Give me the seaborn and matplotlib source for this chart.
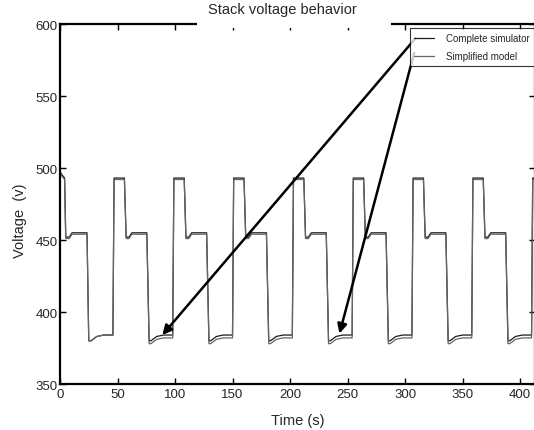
import matplotlib
matplotlib.use("Agg")
import matplotlib.pyplot as plt
from matplotlib.patches import Rectangle
import seaborn as sns
import pandas as pd

# tiempos (s) y tensiones (V)
t_puntos = [0, 1, 3, 4, 5, 8, 10.5, 23.5, 25, 27, 32, 38, 46,
            47, 56, 57.5, 60, 62.5, 75.5, 77.5, 79, 84, 90, 98,
            99, 108, 109.5, 112, 114.5, 127.5, 129.5, 131, 136, 142, 150,
            151, 160, 161.5, 164, 166.5, 179.5, 181.5, 183, 188, 194, 202,
            203, 212, 213.5, 216, 218.5, 231.5, 233.5, 235, 240, 246, 254,
            255, 264, 265.5, 268, 270.5, 283.5, 285.5, 287, 292, 298, 306,
            307, 316, 317.5, 320, 322.5, 335.5, 337.5, 339, 344, 350, 358,
            359, 368, 369.5, 372, 374.5, 387.5, 389.5, 391, 396, 402, 410,
            411, 413]

v_completo = [498, 496, 494, 493, 452, 452, 455, 455, 380, 380, 383, 384, 384,
              493, 493, 452, 452, 455, 455, 380, 380, 383, 384, 384,
              493, 493, 452, 452, 455, 455, 380, 380, 383, 384, 384,
              493, 493, 452, 452, 455, 455, 380, 380, 383, 384, 384,
              493, 493, 452, 452, 455, 455, 380, 380, 383, 384, 384,
              493, 493, 452, 452, 455, 455, 380, 380, 383, 384, 384,
              493, 493, 452, 452, 455, 455, 380, 380, 383, 384, 384,
              493, 493, 452, 452, 455, 455, 380, 380, 383, 384, 384,
              493, 493]

v_simplificado = [497, 495, 493, 492, 451, 451, 454, 454, 380, 380, 383, 384, 384,
                  492, 492, 451, 451, 454, 454, 378, 378, 381, 382, 382,
                  492, 492, 451, 451, 454, 454, 378, 378, 381, 382, 382,
                  492, 492, 451, 451, 454, 454, 378, 378, 381, 382, 382,
                  492, 492, 451, 451, 454, 454, 378, 378, 381, 382, 382,
                  492, 492, 451, 451, 454, 454, 378, 378, 381, 382, 382,
                  492, 492, 451, 451, 454, 454, 378, 378, 381, 382, 382,
                  492, 492, 451, 451, 454, 454, 378, 378, 381, 382, 382,
                  492, 492]

x_ticks = [0, 50, 100, 150, 200, 250, 300, 350, 400]
y_ticks = [350, 400, 450, 500, 550, 600]

sns.set_theme(style="white")
plt.rcParams['font.family'] = ['Liberation Sans', 'DejaVu Sans']

fig = plt.figure(figsize=(5.34, 4.31), dpi=100)
ax = fig.add_axes([60/534, 46/431, 475/534, 360/431])

df = pd.DataFrame({"t": t_puntos, "completo": v_completo, "simplificado": v_simplificado})
sns.lineplot(data=df, x="t", y="completo", ax=ax, color="#1a1a1a", lw=0.9,
             sort=False, estimator=None, label="Complete simulator")
sns.lineplot(data=df, x="t", y="simplificado", ax=ax, color="#666666", lw=0.9,
             sort=False, estimator=None, label="Simplified model")

ax.set_xlim(0, 413)
ax.set_ylim(350, 600)
ax.set_xticks(x_ticks)
ax.set_yticks(y_ticks)
ax.tick_params(axis='both', which='both', direction='in', length=4, width=1,
               top=True, right=True, bottom=True, left=True, labelsize=9.5, pad=1.5,
               color='black')
ax.tick_params(axis='x', pad=3)
for s in ax.spines.values():
    s.set_color('black')
    s.set_linewidth(1.6)

ax.set_xlabel("Time (s)", fontsize=10.5, labelpad=9)
ax.set_ylabel("Voltage  (v)", fontsize=10.5)
ax.yaxis.set_label_coords(-0.07, 0.455)
ax.set_title("Stack voltage behavior", fontsize=10.5, pad=8, x=0.468)

# hueco blanco en el borde superior bajo el titulo
ax.add_patch(Rectangle((0.289, 0.99), 0.407, 0.03, transform=ax.transAxes,
                       facecolor='white', edgecolor='none', clip_on=False, zorder=5))

leg = ax.legend(loc='upper left', bbox_to_anchor=(0.736, 0.988), fontsize=7,
                frameon=True, fancybox=False, handlelength=2.0, borderpad=0.5,
                labelspacing=0.8, handletextpad=1.2, borderaxespad=0)
leg.get_frame().set_edgecolor('black')
leg.get_frame().set_linewidth(0.8)

# flechas desde la leyenda hacia las curvas
flecha = dict(arrowstyle='-|>', lw=1.8, color='black', mutation_scale=14, shrinkA=0, shrinkB=0)
ax.annotate('', xy=(89, 384), xytext=(309, 590), arrowprops=flecha)
ax.annotate('', xy=(243, 385), xytext=(308, 580), arrowprops=flecha)

fig.savefig("out.png", dpi=100)
